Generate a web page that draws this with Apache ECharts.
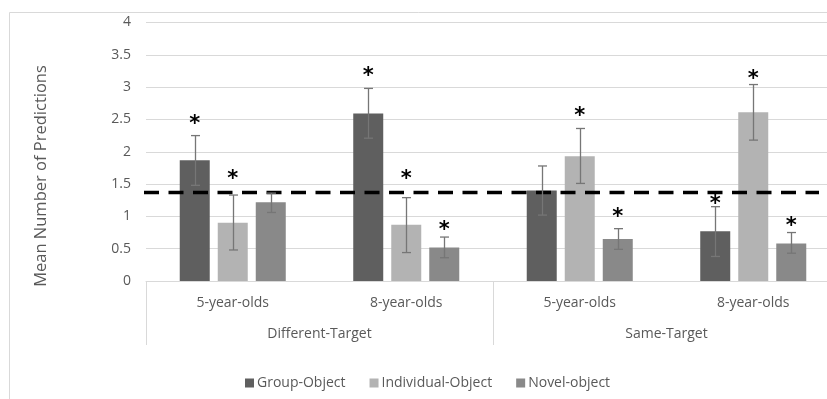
<!DOCTYPE html>
<html>
<head>
<meta charset="utf-8">
<script src="https://cdn.jsdelivr.net/npm/echarts@6/dist/echarts.min.js"></script>
<style>
  html, body { margin: 0; padding: 0; background: #fff; }
  #chart { width: 827px; height: 399px; }
</style>
</head>
<body>
<div id="chart"></div>
<script>
// Age groups within each condition, and the two conditions
const ageGroups = ['5-year-olds', '8-year-olds', '5-year-olds', '8-year-olds'];
const conditions = ['Different-Target', 'Same-Target'];
const seriesNames = ['Group-Object', 'Individual-Object', 'Novel-object'];

// Mean number of predictions
const groupObject      = [1.87, 2.59, 1.40, 0.77];
const individualObject = [0.90, 0.87, 1.93, 2.61];
const novelObject      = [1.22, 0.52, 0.65, 0.58];

// Error bar extents [low, high]
const groupObjectErr      = [[1.48, 2.25], [2.21, 2.98], [1.02, 1.78], [0.38, 1.15]];
const individualObjectErr = [[0.48, 1.33], [0.44, 1.29], [1.51, 2.36], [2.18, 3.04]];
const novelObjectErr      = [[1.06, 1.36], [0.36, 0.68], [0.49, 0.81], [0.43, 0.75]];

// Height at which significance asterisks sit (null = not significant)
const groupObjectStar      = [2.52, 3.26, null, 1.28];
const individualObjectStar = [1.67, 1.67, 2.64, 3.21];
const novelObjectStar      = [null, 0.87, 1.08, 0.94];

// Chance level
const chanceLevel = 1.37;

// Y axis ticks
const yTicks = [0, 0.5, 1, 1.5, 2, 2.5, 3, 3.5, 4];
const yTitle = 'Mean Number of Predictions';

const FONT = 'Open Sans';
const TEXT = '#595959';
const GRID = '#d9d9d9';
const colors = ['#5f5f5f', '#b3b3b3', '#898989'];
const BAR_W = 30, BAR_GAP = 8;
const offsets = [-(BAR_W + BAR_GAP), 0, BAR_W + BAR_GAP];

function errorSeries(errs, idx) {
  return {
    type: 'custom',
    name: seriesNames[idx] + ' error',
    z: 5,
    silent: true,
    data: errs.map((e, i) => [i, e[0], e[1]]),
    renderItem: function (params, api) {
      const lo = api.coord([api.value(0), api.value(1)]);
      const hi = api.coord([api.value(0), api.value(2)]);
      const x = Math.round(lo[0] + offsets[idx]) + 0.5;
      const cap = 4.5;
      const style = { stroke: '#767676', lineWidth: 1.3 };
      return {
        type: 'group',
        children: [
          { type: 'line', shape: { x1: x, y1: lo[1], x2: x, y2: hi[1] }, style: style },
          { type: 'line', shape: { x1: x - cap, y1: hi[1], x2: x + cap, y2: hi[1] }, style: style },
          { type: 'line', shape: { x1: x - cap, y1: lo[1], x2: x + cap, y2: lo[1] }, style: style }
        ]
      };
    }
  };
}

function starSeries(stars, idx) {
  const data = [];
  stars.forEach((v, i) => { if (v !== null) data.push([i, v]); });
  return {
    type: 'custom',
    name: seriesNames[idx] + ' significance',
    z: 6,
    silent: true,
    data: data,
    renderItem: function (params, api) {
      const p = api.coord([api.value(0), api.value(1)]);
      return {
        type: 'text',
        x: p[0] + offsets[idx],
        y: p[1] + 6,
        style: {
          text: '*',
          fontSize: 21,
          fontWeight: 'bold',
          fontFamily: 'DejaVu Sans',
          fill: '#000',
          align: 'center',
          verticalAlign: 'middle'
        }
      };
    }
  };
}

const barData = [groupObject, individualObject, novelObject];

const option = {
  animation: false,
  backgroundColor: '#fff',
  textStyle: { fontFamily: FONT },
  color: colors,
  graphic: [{
    type: 'rect',
    shape: { x: 9.5, y: 12.5, width: 900, height: 500 },
    style: { fill: 'none', stroke: GRID, lineWidth: 1 },
    z: -10,
    silent: true
  }, {
    type: 'text',
    x: 41,
    y: 176,
    rotation: Math.PI / 2,
    style: {
      text: yTitle,
      fontSize: 16.5,
      fontFamily: FONT,
      fill: TEXT,
      align: 'center',
      verticalAlign: 'middle'
    },
    silent: true
  }],
  legend: {
    left: 240,
    top: 371,
    itemWidth: 9,
    itemHeight: 9,
    itemGap: 24,
    icon: 'rect',
    data: seriesNames,
    textStyle: { fontFamily: FONT, fontSize: 14, color: TEXT, padding: [0, 0, 0, -2] }
  },
  grid: { left: 146, top: 22.5, width: 694, height: 258.5, outerBoundsMode: 'none' },
  xAxis: [{
    type: 'category',
    data: ageGroups,
    axisLine: { show: true, lineStyle: { color: GRID, width: 1 } },
    axisTick: { show: false },
    axisLabel: { color: TEXT, fontSize: 14, fontFamily: FONT, margin: 15 }
  }, {
    type: 'category',
    position: 'bottom',
    data: conditions,
    axisLine: { show: false },
    axisTick: { show: true, length: 64, interval: 0, lineStyle: { color: GRID, width: 1 } },
    axisLabel: { color: TEXT, fontSize: 14, fontFamily: FONT, margin: 46 }
  }],
  yAxis: {
    type: 'value',
    min: 0, max: 4, interval: 0.5,
    axisLine: { show: false },
    axisTick: { show: false },
    splitLine: { lineStyle: { color: GRID, width: 1 } },
    axisLabel: {
      color: TEXT, fontSize: 14, fontFamily: FONT, margin: 15,
      formatter: v => (yTicks.indexOf(v) >= 0 ? String(v) : '')
    }
  },
  series: [
    ...barData.map((d, i) => ({
      type: 'bar',
      name: seriesNames[i],
      data: d,
      barWidth: BAR_W,
      barGap: (BAR_GAP / BAR_W * 100).toFixed(1) + '%',
      itemStyle: { color: colors[i] },
      z: 2
    })),
    errorSeries(groupObjectErr, 0),
    errorSeries(individualObjectErr, 1),
    errorSeries(novelObjectErr, 2),
    starSeries(groupObjectStar, 0),
    starSeries(individualObjectStar, 1),
    starSeries(novelObjectStar, 2),
    {
      // Dashed chance-level line
      type: 'custom',
      name: 'chance',
      z: 4,
      silent: true,
      data: [[0, chanceLevel]],
      renderItem: function (params, api) {
        const y = api.coord([0, api.value(1)])[1];
        return {
          type: 'line',
          shape: { x1: 144, y1: y, x2: 819, y2: y },
          style: { stroke: '#000', lineWidth: 3.5, lineDash: [15, 9.5] }
        };
      }
    }
  ]
};

const chart = echarts.init(document.getElementById('chart'), null, { renderer: 'canvas' });
chart.setOption(option);
</script>
</body>
</html>
